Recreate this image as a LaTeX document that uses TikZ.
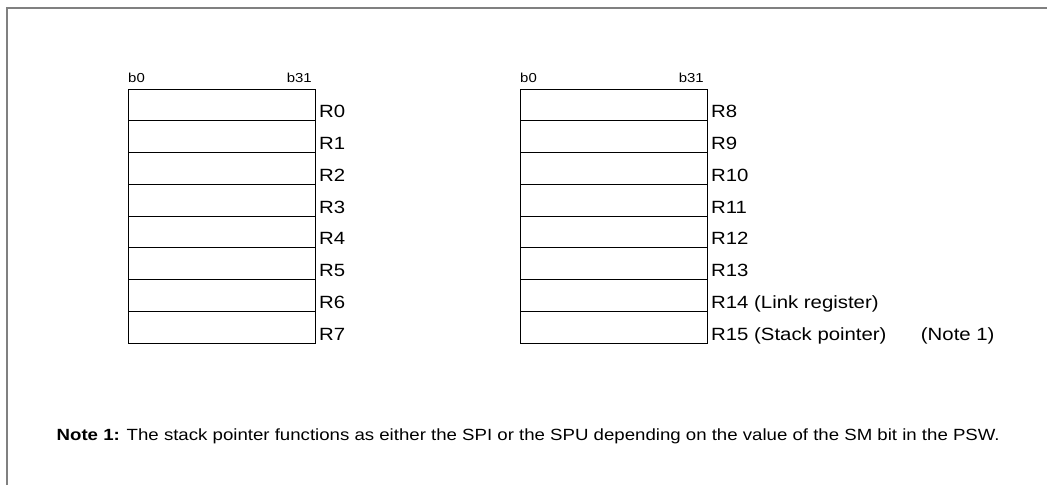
\documentclass[tikz,border=0pt]{standalone}
\usepackage{fontspec}
\setmainfont[FakeStretch=1.15]{Liberation Sans}
\usetikzlibrary{positioning}
\tikzset{
  regbox/.style={draw, line width=1pt, minimum width=187pt, minimum height=31.75pt,
    inner sep=0pt, outer sep=0pt, anchor=north west},
  reglab/.style={anchor=base west, inner sep=0pt, font=\fontsize{17.7}{20}\selectfont},
  bitlab/.style={inner sep=0pt, font=\fontsize{13}{15}\selectfont}
}

\begin{document}
\begin{tikzpicture}[x=1pt,y=-1pt]
\useasboundingbox (0,0) rectangle (1047,485);
% open frame, top and left only
\draw[gray, line width=2pt] (7,485) -- (7,7.5) -- (1047,7.5);
% general registers R0--R7
\foreach \i in {0,...,7} {
  \node[regbox] (l\i) at (128,{89+31.75*\i}) {};
  \node[reglab] (ll\i) at ([shift={(4pt,3pt)}]l\i.south east) {R\i};
}
% general registers R8--R15
\foreach \i/\txt in {0/R8,1/R9,2/R10,3/R11,4/R12,5/R13,6/R14 (Link register),7/R15 (Stack pointer)} {
  \node[regbox] (r\i) at (520,{89+31.75*\i}) {};
  \node[reglab] (rl\i) at ([shift={(4pt,3pt)}]r\i.south east) {\txt};
}
\node[reglab] (n1) at ([xshift=34pt]rl7.base east) {(Note 1)};
% bit numbers
\node[bitlab, anchor=base west] (lb0) at ([yshift=7pt]l0.north west) {b0};
\node[bitlab, anchor=base east] (lb31) at ([shift={(-3pt,7pt)}]l0.north east) {b31};
\node[bitlab, anchor=base west] (rb0) at ([yshift=7pt]r0.north west) {b0};
\node[bitlab, anchor=base east] (rb31) at ([shift={(-3pt,7pt)}]r0.north east) {b31};
% note
\node[reglab, font=\fontsize{16.2}{19}\selectfont] (note) at (56.5,440) {\textbf{Note 1:} The stack pointer functions as either the SPI or the SPU depending on the value of the SM bit in the PSW.};
\end{tikzpicture}
\end{document}
